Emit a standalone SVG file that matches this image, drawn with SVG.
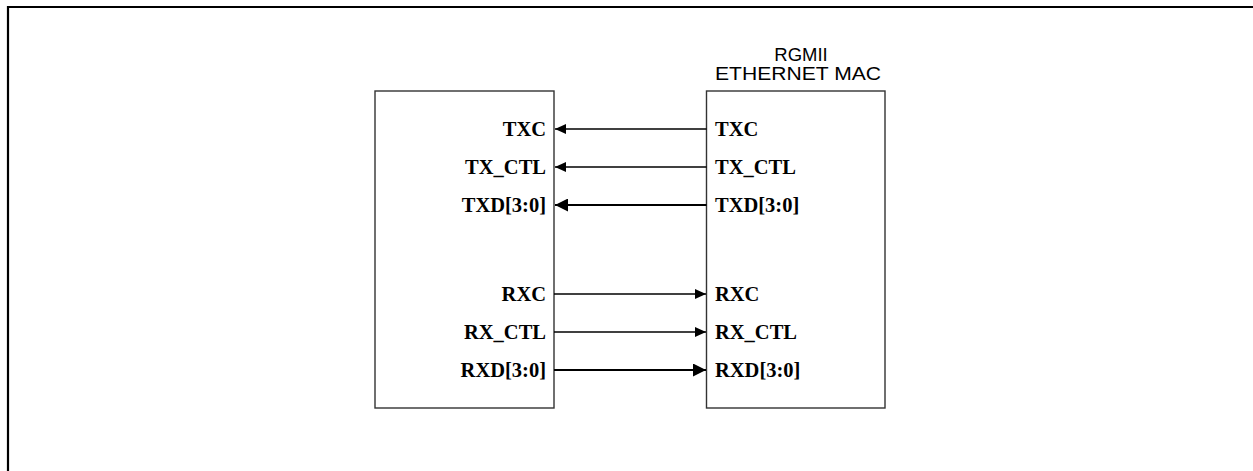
<svg xmlns="http://www.w3.org/2000/svg" width="1253" height="471" viewBox="0 0 1253 471">
<style>
.frame{stroke:#000;stroke-width:2.2;fill:none}
.box{fill:#fff;stroke:#333;stroke-width:1.4}
.lbl{font-family:"Liberation Serif","Times New Roman",serif;font-weight:bold;font-size:20.5px;fill:#000}
.ttl{font-family:"Liberation Sans",Arial,sans-serif;font-size:18.5px;fill:#000;text-anchor:middle}
.thin{stroke:#000;stroke-width:1.3;fill:none}
.thick{stroke:#000;stroke-width:2.2;fill:none}
.end{text-anchor:end}
</style>
<defs>
<marker id="ah" markerUnits="userSpaceOnUse" markerWidth="12" markerHeight="10" viewBox="0 0 12 10" refX="11" refY="5" orient="auto">
<path d="M0,0 L11,5 L0,10 Z" fill="#000"/>
</marker>
<marker id="ahb" markerUnits="userSpaceOnUse" markerWidth="14" markerHeight="13" viewBox="0 0 14 13" refX="13" refY="6.5" orient="auto">
<path d="M0,0 L13,6.5 L0,13 Z" fill="#000"/>
</marker>
</defs>
<rect width="1253" height="471" fill="#fff"/>
<path class="frame" d="M8,471 L8,7 L1253,7"/>
<g id="phy">
<rect class="box" x="375" y="91" width="179" height="317"/>
<text class="lbl end" x="546" y="136">TXC</text>
<text class="lbl end" x="546" y="174">TX_CTL</text>
<text class="lbl end" x="546" y="212">TXD[3:0]</text>
<text class="lbl end" x="546" y="301">RXC</text>
<text class="lbl end" x="546" y="339">RX_CTL</text>
<text class="lbl end" x="546" y="377">RXD[3:0]</text>
</g>
<g id="mac">
<rect class="box" x="706.5" y="91" width="178.5" height="317"/>
<text class="ttl" x="801" y="60.5">RGMII</text>
<text class="ttl" x="798" y="80" textLength="166" lengthAdjust="spacingAndGlyphs">ETHERNET MAC</text>
<text class="lbl" x="715" y="136">TXC</text>
<text class="lbl" x="715" y="174">TX_CTL</text>
<text class="lbl" x="715" y="212">TXD[3:0]</text>
<text class="lbl" x="715" y="301">RXC</text>
<text class="lbl" x="715" y="339">RX_CTL</text>
<text class="lbl" x="715" y="377">RXD[3:0]</text>
</g>
<g id="connectors">
<path class="thin" d="M706.5,129 L555,129" marker-end="url(#ah)"/>
<path class="thin" d="M706.5,167 L555,167" marker-end="url(#ah)"/>
<path class="thick" d="M706.5,205 L555,205" marker-end="url(#ahb)"/>
<path class="thin" d="M554,294 L706,294" marker-end="url(#ah)"/>
<path class="thin" d="M554,332 L706,332" marker-end="url(#ah)"/>
<path class="thick" d="M554,370 L706,370" marker-end="url(#ahb)"/>
</g>
</svg>
